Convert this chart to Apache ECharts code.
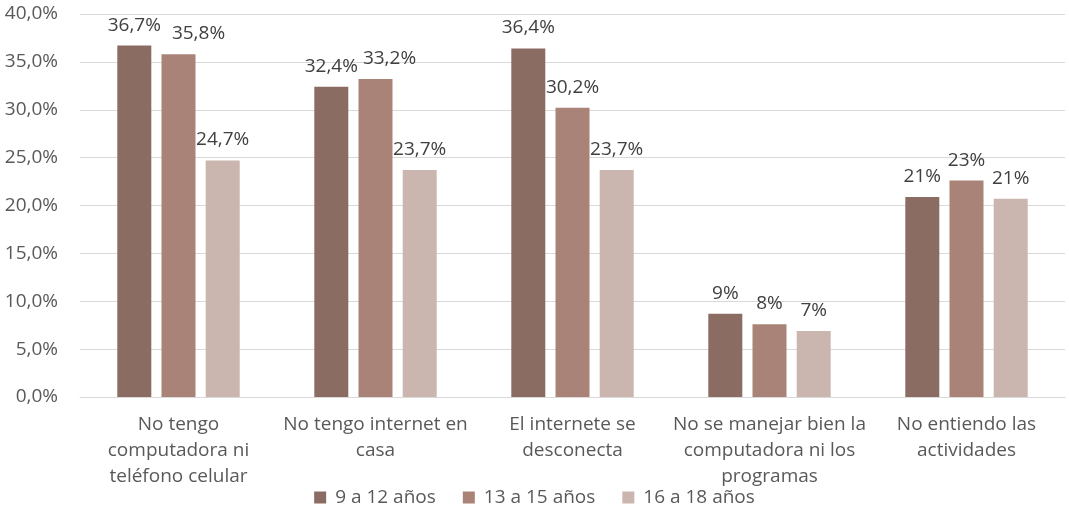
<!DOCTYPE html>
<html>
<head>
<meta charset="utf-8">
<script src="https://cdn.jsdelivr.net/npm/echarts@6/dist/echarts.min.js"></script>
<style>
  html, body { margin: 0; padding: 0; background: #ffffff; }
  #chart { width: 1069px; height: 508px; }
</style>
</head>
<body>
<div id="chart"></div>
<script>
// Motivos de dificultad, por grupo de edad (porcentaje)
const categories = [
  'No tengo\ncomputadora ni\nteléfono celular',
  'No tengo internet en\ncasa',
  'El internete se\ndesconecta',
  'No se manejar bien la\ncomputadora ni los\nprogramas',
  'No entiendo las\nactividades'
];
const seriesNames = ['9 a 12 años', '13 a 15 años', '16 a 18 años'];
const edad9a12 = [36.7, 32.4, 36.4, 8.7, 20.9];
const edad13a15 = [35.8, 33.2, 30.2, 7.6, 22.6];
const edad16a18 = [24.7, 23.7, 23.7, 6.9, 20.7];
// decimals shown in each category's labels
const labelDecimals = [1, 1, 1, 0, 0];
const yTicks = { min: 0, max: 40, interval: 5 };

const colors = ['#8a6c63', '#a98377', '#cbb5af'];
const font = '"Open Sans", "Noto Sans", sans-serif';

// nudge crowded labels sideways so neighbours don't collide
const labelNudge = { '1-0': 20, '1-1': 14 };

function fmtPct(v, d) {
  return v.toFixed(d).replace('.', ',') + '%';
}

const chart = echarts.init(document.getElementById('chart'), null, { renderer: 'canvas' });

const seriesData = [edad9a12, edad13a15, edad16a18];

chart.setOption({
  animation: false,
  textStyle: { fontFamily: font },
  grid: { left: 80, right: 4, top: 14, bottom: 111, containLabel: false },
  legend: {
    top: 483,
    left: 'center',
    itemWidth: 12,
    itemHeight: 12,
    itemGap: 27,
    icon: 'rect',
    textStyle: { fontFamily: font, fontSize: 19, color: '#595959', padding: [0, 0, 0, 4] },
    data: seriesNames
  },
  xAxis: {
    type: 'category',
    data: categories,
    axisLine: { lineStyle: { color: '#d9d9d9', width: 1 } },
    axisTick: { show: false },
    axisLabel: {
      interval: 0,
      margin: 15,
      fontFamily: font,
      fontSize: 19,
      lineHeight: 26,
      color: '#595959'
    }
  },
  yAxis: {
    type: 'value',
    min: yTicks.min,
    max: yTicks.max,
    interval: yTicks.interval,
    axisLine: { show: false },
    axisTick: { show: false },
    splitLine: { lineStyle: { color: '#d9d9d9', width: 1 } },
    axisLabel: {
      margin: 22,
      fontFamily: font,
      fontSize: 19,
      color: '#595959',
      formatter: v => fmtPct(v, 1)
    }
  },
  series: seriesData.map((arr, i) => ({
    name: seriesNames[i],
    type: 'bar',
    data: arr,
    barWidth: 34,
    barGap: '30%',
    barCategoryGap: '38%',
    itemStyle: { color: colors[i] },
    label: {
      show: true,
      position: 'top',
      distance: 11,
      fontFamily: font,
      fontSize: 19,
      color: '#404040',
      formatter: p => fmtPct(p.value, labelDecimals[p.dataIndex])
    },
    labelLayout: p => {
      const dx = labelNudge[p.seriesIndex + '-' + p.dataIndex];
      return dx ? { dx: dx } : {};
    }
  }))
});
</script>
</body>
</html>
